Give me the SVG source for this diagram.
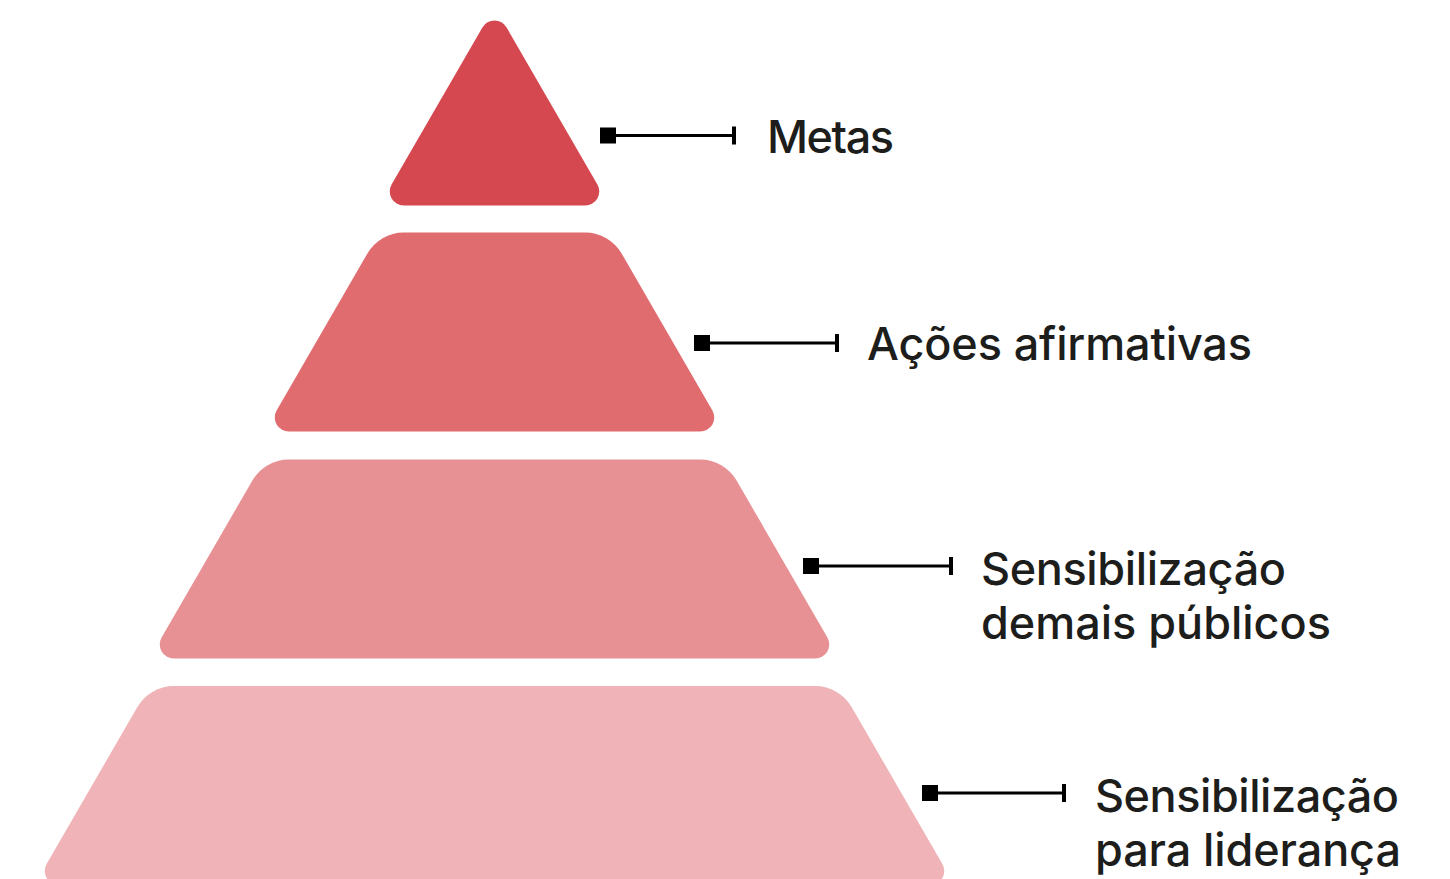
<svg xmlns="http://www.w3.org/2000/svg" width="1450" height="879" viewBox="0 0 1450 879">
  <style>
    .lbl { font-family: Inter, "Noto Sans", "Liberation Sans", sans-serif; font-weight: 500; font-size: 45px; fill: #1d1d1b; }
    .sq { fill: #000; }
    .ln { stroke: #000; stroke-width: 3; fill: none; }
    .tk { stroke: #000; stroke-width: 4; fill: none; }
  </style>
  <rect width="1450" height="879" fill="#ffffff"/>
  <g id="level-metas">
    <path fill="#D6484F" d="M 482.4 27.46 A 14 14 0 0 1 506.6 27.46 L 597.4 184.54 A 14 14 0 0 1 585.3 205.5 L 403.7 205.5 A 14 14 0 0 1 391.6 184.54 Z"/>
    <text class="lbl" x="767" y="153" textLength="127" lengthAdjust="spacing">Metas</text>
  </g>
  <g id="level-acoes">
    <path fill="#E06C70" d="M 403.7 232.5 L 585.3 232.5 A 42 42 0 0 1 621.6 253.46 L 712.4 410.54 A 14 14 0 0 1 700.3 431.5 L 288.7 431.5 A 14 14 0 0 1 276.6 410.54 L 367.4 253.46 A 42 42 0 0 1 403.7 232.5 Z"/>
    <text class="lbl" x="867" y="360" textLength="385" lengthAdjust="spacing">Ações afirmativas</text>
  </g>
  <g id="level-demais">
    <path fill="#E79194" d="M 288.7 459.5 L 700.3 459.5 A 42 42 0 0 1 736.6 480.46 L 827.4 637.54 A 14 14 0 0 1 815.3 658.5 L 173.7 658.5 A 14 14 0 0 1 161.6 637.54 L 252.4 480.46 A 42 42 0 0 1 288.7 459.5 Z"/>
    <text class="lbl" x="981" y="585" textLength="305" lengthAdjust="spacing">Sensibilização</text>
    <text class="lbl" x="981" y="639" textLength="350" lengthAdjust="spacing">demais públicos</text>
  </g>
  <g id="level-lideranca">
    <path fill="#F0B4B8" d="M 173.7 686 L 815.3 686 A 42 42 0 0 1 851.6 706.96 L 942.4 864.04 A 14 14 0 0 1 930.3 885 L 58.7 885 A 14 14 0 0 1 46.6 864.04 L 137.4 706.96 A 42 42 0 0 1 173.7 686 Z"/>
    <text class="lbl" x="1095" y="812" textLength="304" lengthAdjust="spacing">Sensibilização</text>
    <text class="lbl" x="1095" y="866" textLength="306" lengthAdjust="spacing">para liderança</text>
  </g>
  <g id="connectors">
    <rect class="sq" x="600" y="127.5" width="16" height="16"/>
    <line class="ln" x1="616" y1="135.5" x2="734" y2="135.5"/>
    <line class="tk" x1="734" y1="126.5" x2="734" y2="144.5"/>

    <rect class="sq" x="694" y="335" width="16" height="16"/>
    <line class="ln" x1="710" y1="343" x2="837" y2="343"/>
    <line class="tk" x1="837" y1="334" x2="837" y2="352"/>

    <rect class="sq" x="803" y="558" width="16" height="16"/>
    <line class="ln" x1="819" y1="566" x2="951" y2="566"/>
    <line class="tk" x1="951" y1="557" x2="951" y2="575"/>

    <rect class="sq" x="922" y="785" width="16" height="16"/>
    <line class="ln" x1="938" y1="793" x2="1064" y2="793"/>
    <line class="tk" x1="1064" y1="784" x2="1064" y2="802"/>
  </g>
</svg>
